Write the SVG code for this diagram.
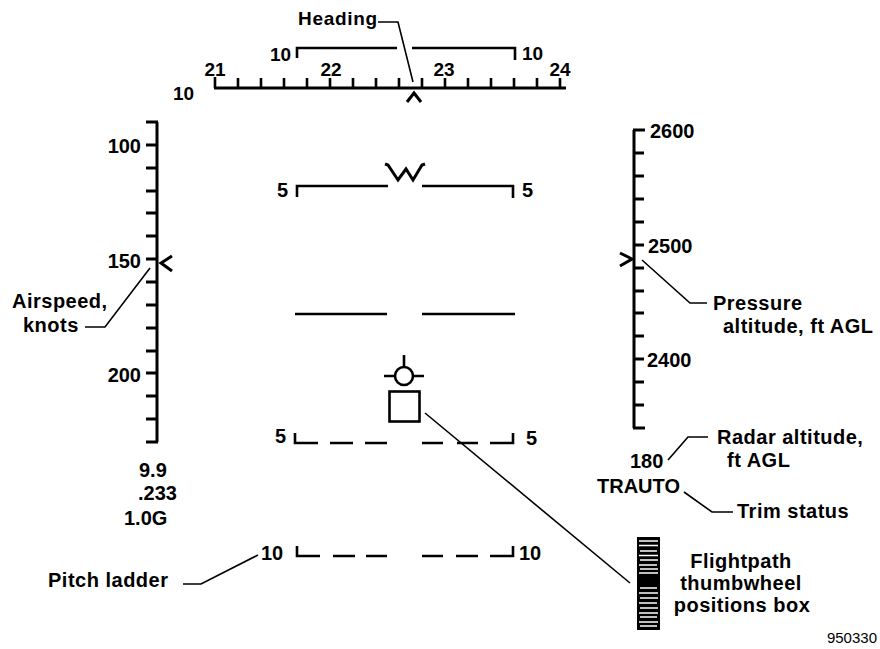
<svg xmlns="http://www.w3.org/2000/svg" width="880" height="649" viewBox="0 0 880 649">
<style>
  .t { font-family: "Liberation Sans", Arial, sans-serif; font-weight: bold; font-size: 20px; letter-spacing: 0.5px; fill: #000; }
  .n { font-family: "Liberation Sans", Arial, sans-serif; font-weight: bold; font-size: 20px; fill: #000; }
  .h { font-family: "Liberation Sans", Arial, sans-serif; font-weight: bold; font-size: 19px; fill: #000; }
  .id { font-family: "Liberation Sans", Arial, sans-serif; font-size: 15px; fill: #000; }
  .thick { stroke: #000; stroke-width: 3; fill: none; stroke-linecap: butt; }
  .med { stroke: #000; stroke-width: 2.6; fill: none; }
  .lead { stroke: #000; stroke-width: 1.6; fill: none; }
  .wh { stroke: #fff; stroke-width: 1.6; }
</style>
<rect width="880" height="649" fill="#fff"/>

<g id="heading-scale">
  <path class="thick" d="M214,88 L566,88"/>
  <path class="med" d="M215,88V77 M238,88V78 M261,88V78 M284,88V78 M307,88V78 M330,88V78 M353,88V78 M376,88V78 M399,88V78 M422,88V78 M445,88V78 M468,88V78 M491,88V78 M514,88V78 M537,88V78 M560,88V78"/>
  <text class="h" x="215" y="76" text-anchor="middle">21</text>
  <text class="h" x="331" y="76" text-anchor="middle">22</text>
  <text class="h" x="444" y="76" text-anchor="middle">23</text>
  <text class="h" x="560" y="76" text-anchor="middle">24</text>
  <text class="h" x="173" y="100">10</text>
  <path class="thick" d="M407,102 L414,93 L421,102"/>
  <path class="med" d="M297,58 L297,48 L397,48 M412,48 L515,48 L515,60"/>
  <text class="h" x="270" y="61">10</text>
  <text class="h" x="522" y="60">10</text>
</g>

<g id="airspeed-scale">
  <path class="thick" d="M157,122 L157,442"/>
  <path class="thick" d="M146,122H158 M146,145H157 M146,168H157 M146,191H157 M146,213H157 M146,236H157 M146,259H157 M146,282H157 M146,305H157 M146,328H157 M146,351H157 M146,373H157 M146,396H157 M146,419H157 M146,442H158"/>
  <text class="n" x="141" y="153" text-anchor="end">100</text>
  <text class="n" x="141" y="268" text-anchor="end">150</text>
  <text class="n" x="141" y="382" text-anchor="end">200</text>
  <path class="thick" d="M172,256 L161,263 L172,271"/>
  <text class="n" x="139" y="477">9.9</text>
  <text class="n" x="138" y="500">.233</text>
  <text class="n" x="124" y="525">1.0G</text>
</g>

<g id="altitude-scale">
  <path class="thick" d="M634,130 L634,428"/>
  <path class="thick" d="M633,130H645 M634,153H644 M634,176H644 M634,199H644 M634,222H644 M634,245H644 M634,268H644 M634,291H644 M634,313H644 M634,336H644 M634,359H644 M634,382H644 M634,405H644 M633,428H645"/>
  <text class="n" x="650" y="138">2600</text>
  <text class="n" x="648" y="253">2500</text>
  <text class="n" x="647" y="367">2400</text>
  <path class="thick" d="M620,253 L632,259 L620,266"/>
  <text class="n" x="630" y="468">180</text>
  <text class="n" x="597" y="493">TRAUTO</text>
</g>

<g id="pitch-ladder">
  <path class="med" d="M297,197 L297,186 L388,186 M422,186 L513,186 L513,198"/>
  <path class="thick" d="M385,164 L388,165 L398,180 L406,169 L413,180 L422,165 L425,164"/>
  <text class="n" x="277" y="197">5</text>
  <text class="n" x="522" y="197">5</text>
  <path class="med" d="M295,314 L387,314 M422,314 L515,314"/>
  <path class="med" d="M295,433 L295,443 L318,443 M330,443H353 M365,443H387 M422,443H443 M457,443H478 M490,443 L513,443 L513,433"/>
  <text class="n" x="275" y="443">5</text>
  <text class="n" x="526" y="445">5</text>
  <path class="med" d="M297,546 L297,556 L320,556 M333,556H355 M366,556H387 M422,556H443 M456,556H478 M490,556 L513,556 L513,546"/>
  <text class="n" x="261" y="560">10</text>
  <text class="n" x="519" y="560">10</text>
</g>

<g id="velocity-vector">
  <circle class="med" cx="404" cy="376" r="9"/>
  <path class="med" d="M404,355 L404,367 M384,376 L395,376 M413,376 L424,376"/>
</g>

<g id="flightpath-box">
  <rect class="med" x="389.5" y="391.5" width="30" height="30"/>
</g>

<g id="thumbwheel">
  <rect x="637" y="537" width="23" height="93" fill="#000"/>
  <path class="wh" d="M639,541H658 M639,545.5H658 M640,551H657 M639,555.5H658 M640,560H658 M639,565H657 M640,569H658 M639,573H658 M640,588H657 M639,593H658 M640,598H658 M639,603H657 M640,608H658 M639,613H658 M640,617H657 M639,622H658 M640,626H657"/>
</g>

<g id="labels">
  <text class="h" x="298" y="25" style="letter-spacing:0.7px">Heading</text>
  <text class="t" x="12" y="308">Airspeed,</text>
  <text class="t" x="23" y="332">knots</text>
  <text class="t" x="713" y="310">Pressure</text>
  <text class="t" x="723" y="333">altitude, ft AGL</text>
  <text class="t" x="717" y="444">Radar altitude,</text>
  <text class="t" x="727" y="467">ft AGL</text>
  <text class="t" x="737" y="518">Trim status</text>
  <text class="t" x="741" y="568" text-anchor="middle">Flightpath</text>
  <text class="t" x="741" y="590" text-anchor="middle">thumbwheel</text>
  <text class="t" x="742" y="612" text-anchor="middle">positions box</text>
  <text class="t" x="48" y="587">Pitch ladder</text>
  <text class="id" x="877" y="643" text-anchor="end">950330</text>
</g>

<g id="connectors">
  <path class="lead" d="M378,22 L398,22 L413,82"/>
  <path class="lead" d="M85,327 L105,327 L150,268"/>
  <path class="lead" d="M642,260 L690,303 L707,303"/>
  <path class="lead" d="M668,460 L688,437 L708,437"/>
  <path class="lead" d="M684,492 L712,512 L733,512"/>
  <path class="lead" d="M425,413 L630,583"/>
  <path class="lead" d="M183,584 L201,584 L258,555"/>
</g>
</svg>
